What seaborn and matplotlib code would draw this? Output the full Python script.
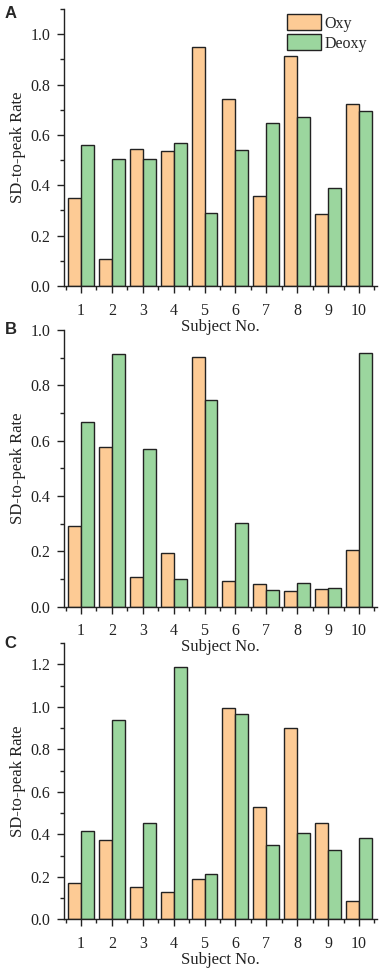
import matplotlib
matplotlib.use("Agg")
import matplotlib.pyplot as plt
import seaborn as sns
import pandas as pd
from matplotlib.ticker import MultipleLocator, FixedLocator

# SD-to-peak rate per subject
subjects = [1, 2, 3, 4, 5, 6, 7, 8, 9, 10]
series = ["Oxy", "Deoxy"]

oxy_a = [0.351, 0.106, 0.542, 0.536, 0.948, 0.742, 0.358, 0.915, 0.284, 0.724]
deoxy_a = [0.560, 0.503, 0.503, 0.569, 0.291, 0.540, 0.647, 0.671, 0.389, 0.693]

oxy_b = [0.293, 0.576, 0.106, 0.195, 0.901, 0.094, 0.083, 0.055, 0.064, 0.205]
deoxy_b = [0.669, 0.912, 0.569, 0.101, 0.746, 0.304, 0.059, 0.084, 0.069, 0.918]

oxy_c = [0.171, 0.373, 0.150, 0.128, 0.188, 0.996, 0.531, 0.902, 0.454, 0.086]
deoxy_c = [0.418, 0.937, 0.451, 1.190, 0.215, 0.968, 0.349, 0.406, 0.324, 0.384]

panel_labels = ["A", "B", "C"]
y_tops = [1.1, 1.0, 1.3]

sns.set_style("ticks")
plt.rcParams["font.family"] = ["Liberation Serif", "DejaVu Serif"]

colors = {"Oxy": "#FDCB95", "Deoxy": "#9BD69E"}

fig = plt.figure(figsize=(3.83, 9.74), dpi=100)
boxes = [
    [0.167, 0.7064, 0.817, 0.2844],
    [0.167, 0.3771, 0.817, 0.2841],
    [0.167, 0.0562, 0.817, 0.2834],
]
label_y = [0.9865, 0.6622, 0.3395]
data = [(oxy_a, deoxy_a), (oxy_b, deoxy_b), (oxy_c, deoxy_c)]

for i, (oxy, deoxy) in enumerate(data):
    ax = fig.add_axes(boxes[i])
    ax.set_facecolor("none")
    df = pd.DataFrame({
        "subject": [str(s) for s in subjects] * 2,
        "rate": oxy + deoxy,
        "series": ["Oxy"] * len(oxy) + ["Deoxy"] * len(deoxy),
    })
    sns.barplot(data=df, x="subject", y="rate", hue="series", hue_order=series,
                palette=colors, width=0.84, edgecolor="#222222", linewidth=1.0,
                saturation=1, ax=ax, legend=(i == 0))
    ax.set_xlim(-0.55, 9.58)
    ax.set_ylim(0, y_tops[i])
    ax.yaxis.set_major_locator(MultipleLocator(0.2))
    ax.yaxis.set_minor_locator(MultipleLocator(0.1))
    ax.xaxis.set_minor_locator(FixedLocator([k + 0.5 for k in range(-1, 10)]))
    ax.yaxis.set_major_formatter(matplotlib.ticker.FormatStrFormatter("%.1f"))
    sns.despine(ax=ax)
    for side in ["left", "bottom"]:
        ax.spines[side].set_color("#222222")
        ax.spines[side].set_linewidth(1.0)
    ax.tick_params(which="major", length=5, width=1.0, color="#222222",
                   labelsize=11.5, labelcolor="#222222")
    ax.tick_params(axis="x", which="major", pad=7)
    ax.tick_params(axis="y", which="major", pad=5)
    ax.tick_params(which="minor", length=3, width=1.0, color="#222222")
    ax.set_xlabel("Subject No.", fontsize=12, color="#222222", labelpad=0)
    ax.set_ylabel("SD-to-peak Rate", fontsize=12, color="#222222", labelpad=3)
    fig.text(0.012, label_y[i], panel_labels[i],
             fontsize=12, fontweight="bold", family="Liberation Sans",
             va="center", ha="left")
    if i == 0:
        ax.legend(loc="upper right", bbox_to_anchor=(0.995, 1.01), frameon=False,
                  fontsize=11.5, handlelength=2.1, handleheight=1.15,
                  handletextpad=0.25, labelspacing=0.18, borderaxespad=0.1)

fig.savefig("out.png", dpi=100)
